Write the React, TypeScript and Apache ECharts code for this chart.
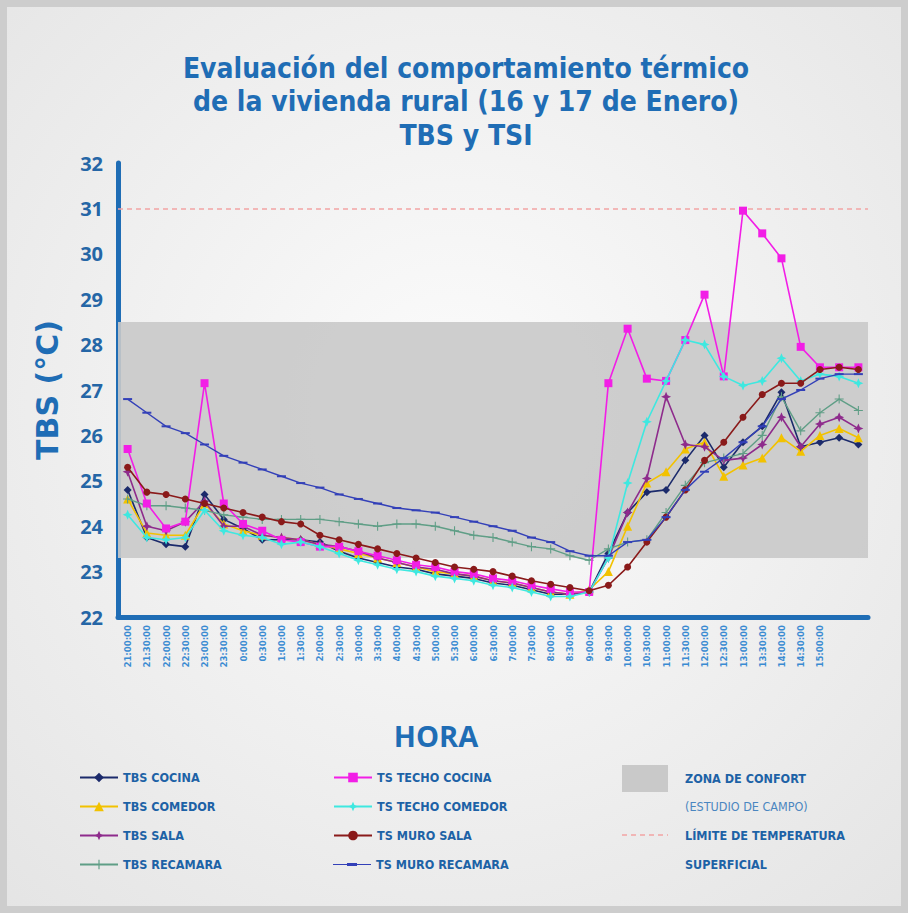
import React, { useEffect, useRef } from "react";
import * as echarts from "echarts";

const categories = [
  "21:00:00", "21:30:00", "22:00:00", "22:30:00", "23:00:00", "23:30:00",
  "0:00:00", "0:30:00", "1:00:00", "1:30:00", "2:00:00", "2:30:00", "3:00:00",
  "3:30:00", "4:00:00", "4:30:00", "5:00:00", "5:30:00", "6:00:00", "6:30:00",
  "7:00:00", "7:30:00", "8:00:00", "8:30:00", "9:00:00", "9:30:00", "10:00:00",
  "10:30:00", "11:00:00", "11:30:00", "12:00:00", "12:30:00", "13:00:00",
  "13:30:00", "14:00:00", "14:30:00", "15:00:00", "", "",
];

const tbsCocina = [24.8, 23.75, 23.6, 23.55, 24.7, 24.15, 23.95, 23.7, 23.7, 23.7, 23.65, 23.45, 23.3, 23.2, 23.1, 23.05, 22.95, 22.9, 22.85, 22.75, 22.7, 22.6, 22.5, 22.5, 22.55, 23.4, 24.3, 24.75, 24.8, 25.45, 26.0, 25.3, 25.85, 26.2, 26.95, 25.75, 25.85, 25.95, 25.8];
const tbsComedor = [24.6, 23.85, 23.8, 23.8, 24.5, 24.05, 23.9, 23.8, 23.75, 23.7, 23.6, 23.5, 23.4, 23.3, 23.2, 23.1, 23.0, 22.95, 22.9, 22.8, 22.75, 22.65, 22.55, 22.5, 22.6, 23.0, 24.0, 24.95, 25.2, 25.7, 25.85, 25.1, 25.35, 25.5, 25.95, 25.65, 26.0, 26.15, 25.95];
const tbsSala = [25.2, 24.0, 23.9, 24.1, 24.55, 24.0, 24.0, 23.8, 23.75, 23.7, 23.6, 23.55, 23.45, 23.3, 23.2, 23.1, 23.05, 22.95, 22.9, 22.8, 22.75, 22.65, 22.55, 22.5, 22.55, 23.3, 24.3, 25.05, 26.85, 25.8, 25.75, 25.45, 25.5, 25.8, 26.4, 25.75, 26.25, 26.4, 26.15];
const tbsRecamara = [24.6, 24.45, 24.45, 24.4, 24.35, 24.25, 24.2, 24.15, 24.15, 24.15, 24.15, 24.1, 24.05, 24.0, 24.05, 24.05, 24.0, 23.9, 23.8, 23.75, 23.65, 23.55, 23.5, 23.35, 23.25, 23.5, 23.65, 23.7, 24.3, 24.9, 25.4, 25.5, 25.6, 26.0, 26.85, 26.1, 26.5, 26.8, 26.55];
const tsTechoCocina = [25.7, 24.5, 23.95, 24.1, 27.15, 24.5, 24.05, 23.9, 23.7, 23.65, 23.55, 23.55, 23.45, 23.35, 23.25, 23.15, 23.1, 23.0, 22.95, 22.85, 22.8, 22.7, 22.62, 22.55, 22.55, 27.15, 28.35, 27.25, 27.2, 28.1, 29.1, 27.3, 30.95, 30.45, 29.9, 27.95, 27.5, 27.5, 27.5];
const tsTechoComedor = [24.25, 23.75, 23.7, 23.75, 24.35, 23.9, 23.8, 23.75, 23.6, 23.65, 23.55, 23.4, 23.25, 23.15, 23.05, 23.0, 22.9, 22.85, 22.8, 22.7, 22.65, 22.55, 22.45, 22.45, 22.55, 23.3, 24.95, 26.3, 27.2, 28.1, 28.0, 27.3, 27.1, 27.2, 27.7, 27.2, 27.35, 27.3, 27.15];
const tsMuroSala = [25.3, 24.75, 24.7, 24.6, 24.5, 24.4, 24.3, 24.2, 24.1, 24.05, 23.8, 23.7, 23.6, 23.5, 23.4, 23.3, 23.2, 23.1, 23.05, 23.0, 22.9, 22.8, 22.72, 22.65, 22.58, 22.7, 23.1, 23.65, 24.2, 24.8, 25.45, 25.85, 26.4, 26.9, 27.15, 27.15, 27.45, 27.5, 27.45];
const tsMuroRecamara = [26.8, 26.5, 26.2, 26.05, 25.8, 25.55, 25.4, 25.25, 25.1, 24.95, 24.85, 24.7, 24.6, 24.5, 24.4, 24.35, 24.3, 24.2, 24.1, 24.0, 23.9, 23.75, 23.65, 23.45, 23.35, 23.35, 23.65, 23.7, 24.2, 24.8, 25.2, 25.5, 25.85, 26.2, 26.8, 27.0, 27.25, 27.35, 27.35];

const comfortZone = [23.3, 28.5];
const surfaceLimit = 31;

const yTicks = { min: 22, max: 32, interval: 1 };

const titleLines = [
  "Evaluación del comportamiento térmico",
  "de la vivienda rural (16 y 17 de Enero)",
  "TBS y TSI",
];

const STAR = "path://M0,-10 L3,-3 L10,0 L3,3 L0,10 L-3,3 L-10,0 L-3,-3 Z";
const PLUS = "path://M-1.2,-10 H1.2 V-1.2 H10 V1.2 H1.2 V10 H-1.2 V1.2 H-10 V-1.2 H-1.2 Z";
const DASH = "path://M-10,-1.5 H10 V1.5 H-10 Z";
const DASH_LEGEND = "path://M0,1 H38 V2 H0 Z M14,0 H24 V3 H14 Z";

const seriesDefs = [
  { name: "TBS COCINA", data: tbsCocina, color: "#1b2a6b", symbol: "diamond", size: 8 },
  { name: "TBS COMEDOR", data: tbsComedor, color: "#f2c200", symbol: "triangle", size: 9 },
  { name: "TBS SALA", data: tbsSala, color: "#8e2b8c", symbol: STAR, size: 10 },
  { name: "TBS RECAMARA", data: tbsRecamara, color: "#5f9e86", symbol: PLUS, size: 9 },
  { name: "TS TECHO COCINA", data: tsTechoCocina, color: "#f21ee6", symbol: "rect", size: 8 },
  { name: "TS TECHO COMEDOR", data: tsTechoComedor, color: "#3ee8e0", symbol: STAR, size: 10 },
  { name: "TS MURO SALA", data: tsMuroSala, color: "#8a1a1a", symbol: "circle", size: 7 },
  { name: "TS MURO RECAMARA", data: tsMuroRecamara, color: "#3340b8", symbol: DASH, size: [9, 2] },
];

const BLUE = "#1f6db5";
const LEGEND_BLUE = "#1d62a6";
const FONT = "'Open Sans', 'DejaVu Sans', sans-serif";
const TITLE_FONT = "'DejaVu Sans Condensed', 'Open Sans', sans-serif";
const NARROW = "'Liberation Sans Narrow', 'DejaVu Sans Condensed', sans-serif";

export default function App() {
  const ref = useRef<HTMLDivElement>(null);

  useEffect(() => {
    if (!ref.current) return;
    const chart = echarts.init(ref.current, null, { renderer: "svg" });

    const series: any[] = seriesDefs.map((s, i) => ({
      name: s.name,
      type: "line",
      data: s.data,
      symbol: s.symbol,
      symbolSize: s.size,
      showSymbol: true,
      itemStyle: { color: s.color },
      lineStyle: { color: s.color, width: s.name === "TBS RECAMARA" || s.name === "TS MURO RECAMARA" ? 1.4 : 1.6 },
      z: 3 + i,
      ...(i === 0
        ? {
            markArea: {
              silent: true,
              itemStyle: { color: "#c9c9c9", opacity: 0.9 },
              data: [[{ yAxis: comfortZone[0] }, { yAxis: comfortZone[1] }]],
              z: 1,
            },
            markLine: {
              silent: true,
              symbol: ["none", "none"],
              label: { show: false },
              lineStyle: { color: "#f2a4a4", type: [5, 4], width: 1.5 },
              data: [{ yAxis: surfaceLimit }],
            },
          }
        : {}),
    }));

    const legendText = {
      fontSize: 12.5,
      fontWeight: "bold",
      color: LEGEND_BLUE,
      fontFamily: NARROW,
    };
    const legendBase = {
      orient: "vertical",
      itemWidth: 38,
      itemHeight: 12,
      itemGap: 16,
      selectedMode: false,
      textStyle: legendText,
    };

    const option: any = {
      animation: false,
      backgroundColor: {
        type: "radial",
        x: 0.5,
        y: 0.45,
        r: 0.75,
        colorStops: [
          { offset: 0, color: "#fcfcfc" },
          { offset: 1, color: "#e4e4e4" },
        ],
      },
      grid: { left: 118, right: 40, top: 163, bottom: 296 },
      xAxis: {
        type: "category",
        data: categories,
        boundaryGap: true,
        axisLine: { lineStyle: { color: BLUE, width: 5 } },
        axisTick: { show: false },
        axisLabel: {
          rotate: 90,
          interval: 0,
          fontSize: 9.5,
          fontWeight: "bold",
          color: "#3a8bd2",
          margin: 8,
          fontFamily: NARROW,
        },
      },
      yAxis: {
        type: "value",
        min: yTicks.min,
        max: yTicks.max,
        interval: yTicks.interval,
        axisLine: { show: true, lineStyle: { color: BLUE, width: 5 } },
        axisTick: { show: false },
        splitLine: { show: false },
        axisLabel: {
          fontSize: 20,
          fontWeight: "bold",
          color: "#2566a6",
          margin: 15,
          fontFamily: FONT,
        },
        name: "TBS (°C)",
        nameLocation: "middle",
        nameRotate: 90,
        nameGap: 56,
        nameTextStyle: {
          fontSize: 30,
          fontWeight: "bold",
          color: BLUE,
          fontFamily: "'DejaVu Sans', sans-serif",
        },
      },
      legend: [
        {
          ...legendBase,
          data: seriesDefs.slice(0, 4).map((s) => s.name),
          left: 74,
          top: 766,
        },
        {
          ...legendBase,
          data: seriesDefs.slice(4, 7).map((s) => s.name),
          left: 328,
          top: 766,
        },
        {
          ...legendBase,
          itemHeight: 3,
          data: [{ name: seriesDefs[7].name, icon: DASH_LEGEND }],
          left: 328,
          top: 853,
        },
      ],
      graphic: [
        {
          type: "rect",
          shape: { x: 0, y: 0, width: 908, height: 913 },
          style: { fill: "none", stroke: "#cdcdcd", lineWidth: 14 },
          silent: true,
          z: 0,
        },
        ...titleLines.map((t, i) => ({
          type: "text",
          x: 466,
          y: 68 + i * 33.5,
          style: {
            text: t,
            fill: BLUE,
            font: `bold 28px ${TITLE_FONT}`,
            textAlign: "center",
            textVerticalAlign: "middle",
          },
        })),
        {
          type: "text",
          x: 436,
          y: 735,
          style: {
            text: "HORA",
            fill: BLUE,
            font: `bold 29px ${FONT}`,
            textAlign: "center",
            textVerticalAlign: "middle",
          },
        },
        {
          type: "rect",
          shape: { x: 622, y: 765, width: 46, height: 27 },
          style: { fill: "#c9c9c9" },
        },
        {
          type: "line",
          shape: { x1: 622, y1: 835, x2: 668, y2: 835 },
          style: { stroke: "#f2a4a4", lineWidth: 1.5, lineDash: [5, 4] },
        },
        {
          type: "text",
          x: 685,
          y: 778,
          style: { text: "ZONA DE CONFORT", fill: LEGEND_BLUE, font: `bold 12.5px ${NARROW}`, textVerticalAlign: "middle" },
        },
        {
          type: "text",
          x: 685,
          y: 806,
          style: { text: "(ESTUDIO DE CAMPO)", fill: "#4a86c0", font: `12.5px ${NARROW}`, textVerticalAlign: "middle" },
        },
        {
          type: "text",
          x: 685,
          y: 835,
          style: { text: "LÍMITE DE TEMPERATURA", fill: LEGEND_BLUE, font: `bold 12.5px ${NARROW}`, textVerticalAlign: "middle" },
        },
        {
          type: "text",
          x: 685,
          y: 864,
          style: { text: "SUPERFICIAL", fill: LEGEND_BLUE, font: `bold 12.5px ${NARROW}`, textVerticalAlign: "middle" },
        },
      ],
      series,
    };

    chart.setOption(option);
    return () => chart.dispose();
  }, []);

  return (
    <div
      ref={ref}
      style={{ position: "absolute", left: 0, top: 0, width: 908, height: 913 }}
    />
  );
}
